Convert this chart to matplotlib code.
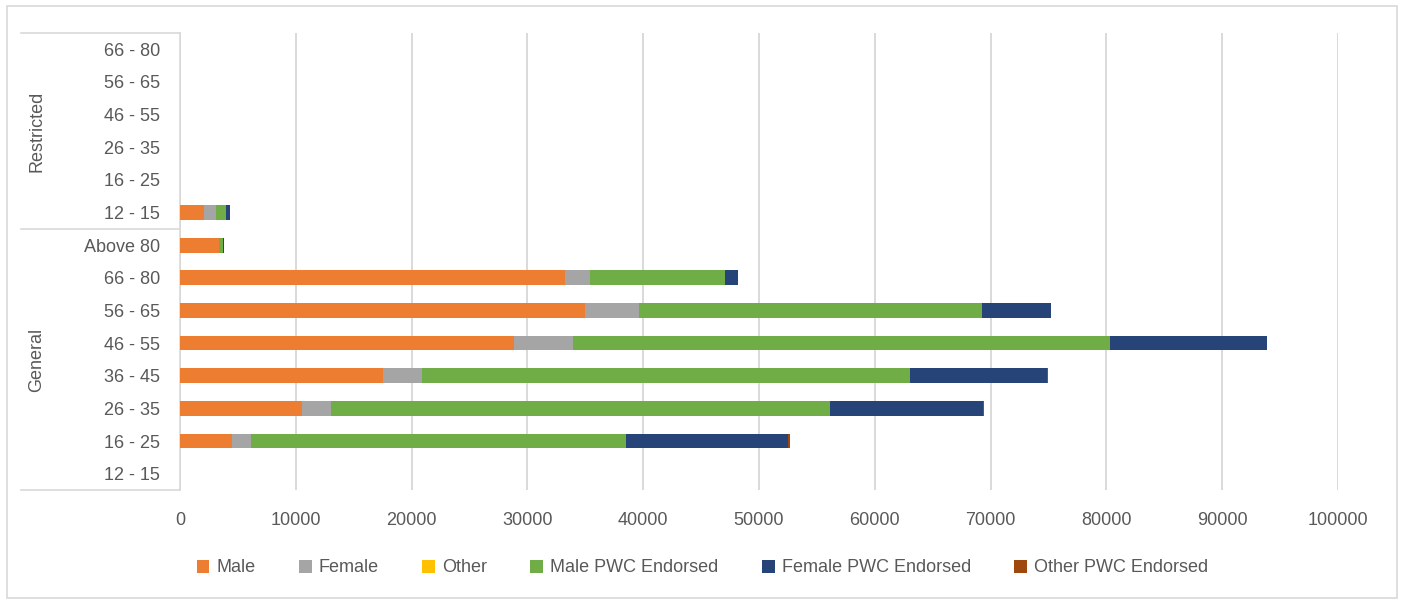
import numpy as np
import matplotlib.pyplot as plt
from matplotlib.lines import Line2D
from matplotlib.patches import Rectangle

plt.rcParams['font.family'] = ['Liberation Sans', 'DejaVu Sans']

# rows from bottom to top
ages = ["12 - 15", "16 - 25", "26 - 35", "36 - 45", "46 - 55", "56 - 65", "66 - 80", "Above 80",
        "12 - 15", "16 - 25", "26 - 35", "46 - 55", "56 - 65", "66 - 80"]
groups = ["General", "Restricted"]
group_sizes = [8, 6]

series = ["Male", "Female", "Other", "Male PWC Endorsed", "Female PWC Endorsed", "Other PWC Endorsed"]
male        = [0, 4500, 10560, 17550, 28840, 35000, 33250, 3350, 2100, 0, 0, 0, 0, 0]
female      = [0, 1660, 2480, 3350, 5100, 4670, 2150, 0, 1030, 0, 0, 0, 0, 0]
other       = [0, 0, 0, 0, 0, 0, 0, 0, 0, 0, 0, 0, 0, 0]
male_pwc    = [0, 32350, 43120, 42160, 46400, 29620, 11650, 340, 820, 0, 0, 0, 0, 0]
female_pwc  = [0, 14030, 13150, 11820, 13550, 5960, 1130, 90, 400, 0, 0, 0, 0, 0]
other_pwc   = [0, 100, 100, 100, 0, 0, 0, 0, 0, 0, 0, 0, 0, 0]
colors = ["#ED7D31", "#A5A5A5", "#FFC000", "#70AD47", "#264478", "#9E480E"]

W, H = 1405, 604
fig = plt.figure(figsize=(W / 100, H / 100), dpi=100)
ax = fig.add_axes([180 / W, 1 - 490 / H, (1338 - 180) / W, (490 - 33) / H])

y = np.arange(len(ages))
left = np.zeros(len(ages))
for name, vals, c in zip(series, [male, female, other, male_pwc, female_pwc, other_pwc], colors):
    vals = np.array(vals, dtype=float)
    ax.barh(y, vals, left=left, height=0.45, color=c, label=name, zorder=3)
    left += vals

ax.set_xlim(0, 100000)
ax.set_ylim(-0.5, len(ages) - 0.5)
ax.set_xticks(np.arange(0, 100001, 10000))
ax.set_yticks(y)
ax.set_yticklabels(ages)
ax.tick_params(axis='both', length=0, labelsize=13, colors="#595959")
ax.tick_params(axis='y', pad=14.5)
ax.tick_params(axis='x', pad=16)
ax.grid(axis='x', color="#D9D9D9", lw=1.4, zorder=0)
for s in ['top', 'right', 'bottom']:
    ax.spines[s].set_visible(False)
ax.spines['left'].set_color("#D9D9D9")
ax.spines['left'].set_linewidth(1.2)

# group labels and separators on the category axis
lc = "#D9D9D9"
for yy in [33, 229, 490]:
    fig.add_artist(Line2D([21 / W, 180 / W], [1 - yy / H, 1 - yy / H], color=lc, lw=1.2))
for gname, ytop, ybot in [("Restricted", 33, 229), ("General", 229, 490)]:
    fig.text(37 / W, 1 - (ytop + ybot) / 2 / H, gname, rotation=90, ha='center', va='center',
             fontsize=13, color="#595959")

# outer chart frame
fig.add_artist(Rectangle((7 / W, 6 / H), (1397 - 7) / W, (598 - 6) / H, fill=False,
                         edgecolor="#D9D9D9", lw=1.2))

fig.legend(loc='center', bbox_to_anchor=(0.5, 1 - 568 / H), ncol=6, frameon=False,
           fontsize=13, labelcolor="#595959", handlelength=0.7, handleheight=0.7,
           handletextpad=0.4, columnspacing=2.4)

fig.savefig("out.png", dpi=100)
